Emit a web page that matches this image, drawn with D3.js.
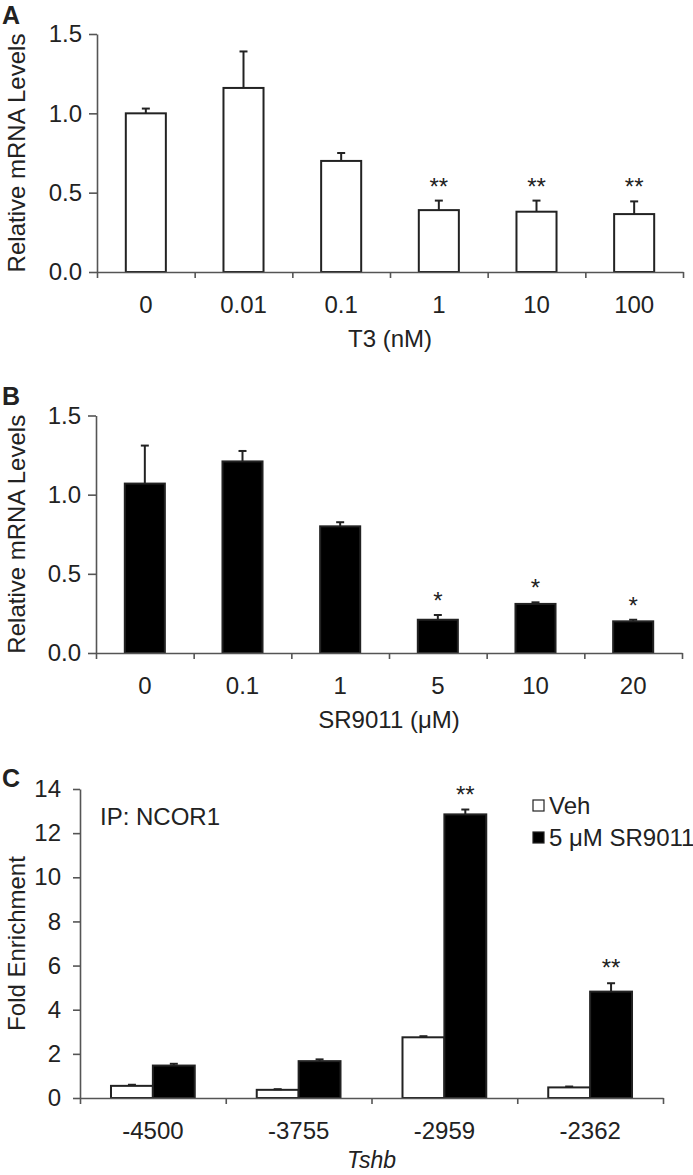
<!DOCTYPE html>
<html>
<head>
<meta charset="utf-8">
<script src="https://cdn.jsdelivr.net/npm/d3@7"></script>
<style>
  body { margin: 0; background: #fff; }
  text { font-family: "Liberation Sans", Arial, sans-serif; fill: #222; }
</style>
</head>
<body>
<div id="wrapper"></div>
<script>
// panel A: T3 dose
const t3Doses = ["0", "0.01", "0.1", "1", "10", "100"];
const t3Means = [1.0, 1.16, 0.70, 0.39, 0.38, 0.365];
const t3Errs = [0.03, 0.23, 0.05, 0.06, 0.07, 0.08];
const t3Sig = ["", "", "", "**", "**", "**"];

// panel B: SR9011 dose
const srDoses = ["0", "0.1", "1", "5", "10", "20"];
const srMeans = [1.07, 1.21, 0.80, 0.21, 0.31, 0.20];
const srErrs = [0.24, 0.066, 0.026, 0.03, 0.01, 0.01];
const srSig = ["", "", "", "*", "*", "*"];

// panel C: ChIP
const sites = ["-4500", "-3755", "-2959", "-2362"];
const groups = ["Veh", "5 μM SR9011"];
const vehMeans = [0.55, 0.37, 2.75, 0.48];
const vehErrs = [0.05, 0.03, 0.05, 0.04];
const sr5Means = [1.47, 1.67, 12.85, 4.82];
const sr5Errs = [0.08, 0.08, 0.22, 0.38];
const chipSig = ["", "", "**", "**"];

const mrnaTicks = [0, 0.5, 1.0, 1.5];
const foldTicks = [0, 2, 4, 6, 8, 10, 12, 14];

const W = 693, H = 1175;
const axisColor = "#555";
const inkColor = "#222";

const svg = d3.select("#wrapper").append("svg")
  .attr("width", W)
  .attr("height", H);

function styleAxis(g) {
  g.selectAll("path, line").attr("stroke", axisColor).attr("stroke-width", 1.6);
  g.selectAll("text").attr("font-size", 24).attr("fill", inkColor)
    .attr("font-family", "'Liberation Sans', Arial, sans-serif");
}

function drawDosePanel(opt) {
  const x = d3.scaleBand().domain(opt.cats).range([opt.x0, opt.x1]).padding(0);
  const xEdge = d3.scaleLinear().domain([0, opt.cats.length]).range([opt.x0, opt.x1]);
  const y = d3.scaleLinear().domain([0, 1.5]).range([opt.yBase, opt.yTop]);
  const bw = x.bandwidth() * 0.41;
  const data = opt.cats.map((c, i) => ({c, m: opt.means[i], e: opt.errs[i], s: opt.sig[i]}));

  svg.append("g").selectAll("rect").data(data).join("rect")
    .attr("x", d => x(d.c) + x.bandwidth() / 2 - bw / 2)
    .attr("y", d => y(d.m))
    .attr("width", bw)
    .attr("height", d => y(0) - y(d.m))
    .attr("fill", opt.fill)
    .attr("stroke", inkColor)
    .attr("stroke-width", 2);

  const err = svg.append("g").attr("stroke", inkColor).attr("stroke-width", 2);
  err.selectAll("line.v").data(data).join("line").attr("class", "v")
    .attr("x1", d => x(d.c) + x.bandwidth() / 2)
    .attr("x2", d => x(d.c) + x.bandwidth() / 2)
    .attr("y1", d => y(d.m))
    .attr("y2", d => y(d.m + d.e));
  err.selectAll("line.cap").data(data).join("line").attr("class", "cap")
    .attr("x1", d => x(d.c) + x.bandwidth() / 2 - 4)
    .attr("x2", d => x(d.c) + x.bandwidth() / 2 + 4)
    .attr("y1", d => y(d.m + d.e))
    .attr("y2", d => y(d.m + d.e));

  svg.append("g").selectAll("text").data(data.filter(d => d.s)).join("text")
    .attr("x", d => x(d.c) + x.bandwidth() / 2)
    .attr("y", d => y(d.m + d.e) - 6)
    .attr("text-anchor", "middle")
    .attr("font-size", 24)
    .attr("fill", "#333")
    .text(d => d.s);

  // y axis
  svg.append("g")
    .attr("transform", `translate(${opt.x0},0)`)
    .call(d3.axisLeft(y).tickValues(mrnaTicks).tickFormat(d3.format(".1f"))
      .tickSizeInner(8).tickSizeOuter(0).tickPadding(7))
    .call(styleAxis);

  // x axis with ticks at category edges
  svg.append("g")
    .attr("transform", `translate(0,${opt.yBase})`)
    .call(d3.axisBottom(xEdge).tickValues(d3.range(opt.cats.length + 1))
      .tickFormat("").tickSizeInner(6).tickSizeOuter(0))
    .call(styleAxis);

  // category labels
  svg.append("g")
    .attr("transform", `translate(0,${opt.yBase + 24})`)
    .call(d3.axisBottom(x).tickSize(0).tickPadding(0))
    .call(styleAxis)
    .call(g => g.select(".domain").remove());

  svg.append("text")
    .attr("x", (opt.x0 + opt.x1) / 2)
    .attr("y", opt.yBase + 75)
    .attr("text-anchor", "middle")
    .attr("font-size", 24)
    .text(opt.xTitle);

  svg.append("text")
    .attr("transform", `translate(25,${(opt.yBase + opt.yTop) / 2}) rotate(-90)`)
    .attr("text-anchor", "middle")
    .attr("font-size", 24)
    .text("Relative mRNA Levels");

  svg.append("text")
    .attr("x", 2)
    .attr("y", opt.letterY)
    .attr("font-size", 25)
    .attr("font-weight", "bold")
    .text(opt.letter);
}

drawDosePanel({
  cats: t3Doses, means: t3Means, errs: t3Errs, sig: t3Sig,
  x0: 97, x1: 683, yBase: 272, yTop: 34, fill: "#fff",
  xTitle: "T3 (nM)", letter: "A", letterY: 24
});

drawDosePanel({
  cats: srDoses, means: srMeans, errs: srErrs, sig: srSig,
  x0: 96, x1: 682, yBase: 653, yTop: 415.5, fill: "#000",
  xTitle: "SR9011 (μM)", letter: "B", letterY: 405
});

// ---- panel C
const cX0 = 80, cX1 = 663, cBase = 1098, cTop = 789;
const xc = d3.scaleBand().domain(sites).range([cX0, cX1]).padding(0);
const xg = d3.scaleBand().domain(groups).range([0, xc.bandwidth()]).paddingInner(0).paddingOuter(0.74);
const yc = d3.scaleLinear().domain([0, 14]).range([cBase, cTop]);
const colorC = d3.scaleOrdinal().domain(groups).range(["#fff", "#000"]);

const chip = sites.map((s, i) => [
  {site: s, g: groups[0], m: vehMeans[i], e: vehErrs[i], s: ""},
  {site: s, g: groups[1], m: sr5Means[i], e: sr5Errs[i], s: chipSig[i]}
]).flat();

svg.append("g").selectAll("rect").data(chip).join("rect")
  .attr("x", d => xc(d.site) + xg(d.g))
  .attr("y", d => yc(d.m))
  .attr("width", xg.bandwidth())
  .attr("height", d => yc(0) - yc(d.m))
  .attr("fill", d => colorC(d.g))
  .attr("stroke", inkColor)
  .attr("stroke-width", 2);

const errC = svg.append("g").attr("stroke", inkColor).attr("stroke-width", 2);
errC.selectAll("line.v").data(chip).join("line").attr("class", "v")
  .attr("x1", d => xc(d.site) + xg(d.g) + xg.bandwidth() / 2)
  .attr("x2", d => xc(d.site) + xg(d.g) + xg.bandwidth() / 2)
  .attr("y1", d => yc(d.m))
  .attr("y2", d => yc(d.m + d.e));
errC.selectAll("line.cap").data(chip).join("line").attr("class", "cap")
  .attr("x1", d => xc(d.site) + xg(d.g) + xg.bandwidth() / 2 - 4)
  .attr("x2", d => xc(d.site) + xg(d.g) + xg.bandwidth() / 2 + 4)
  .attr("y1", d => yc(d.m + d.e))
  .attr("y2", d => yc(d.m + d.e));

svg.append("g").selectAll("text").data(chip.filter(d => d.s)).join("text")
  .attr("x", d => xc(d.site) + xg(d.g) + xg.bandwidth() / 2)
  .attr("y", d => yc(d.m + d.e) - 7)
  .attr("text-anchor", "middle")
  .attr("font-size", 24)
  .attr("fill", "#333")
  .text(d => d.s);

svg.append("g")
  .attr("transform", `translate(${cX0},0)`)
  .call(d3.axisLeft(yc).tickValues(foldTicks).tickSizeInner(7).tickSizeOuter(0).tickPadding(12))
  .call(styleAxis);

const xcEdge = d3.scaleLinear().domain([0, sites.length]).range([cX0, cX1]);
svg.append("g")
  .attr("transform", `translate(0,${cBase})`)
  .call(d3.axisBottom(xcEdge).tickValues(d3.range(sites.length + 1))
    .tickFormat("").tickSizeInner(6).tickSizeOuter(0))
  .call(styleAxis);

svg.append("g")
  .attr("transform", `translate(0,${cBase + 24})`)
  .call(d3.axisBottom(xc).tickSize(0).tickPadding(0))
  .call(styleAxis)
  .call(g => g.select(".domain").remove());

svg.append("text")
  .attr("x", (cX0 + cX1) / 2)
  .attr("y", cBase + 70)
  .attr("text-anchor", "middle")
  .attr("font-size", 23)
  .attr("font-style", "italic")
  .text("Tshb");

svg.append("text")
  .attr("transform", `translate(25,${(cBase + cTop) / 2}) rotate(-90)`)
  .attr("text-anchor", "middle")
  .attr("font-size", 24)
  .text("Fold Enrichment");

svg.append("text")
  .attr("x", 2).attr("y", 787)
  .attr("font-size", 25).attr("font-weight", "bold")
  .text("C");

svg.append("text")
  .attr("x", 100).attr("y", 825)
  .attr("font-size", 24)
  .text("IP: NCOR1");

// legend
const legend = svg.append("g").attr("transform", "translate(533,800)");
const li = legend.selectAll("g").data(groups).join("g")
  .attr("transform", (d, i) => `translate(0,${i * 32})`);
li.append("rect")
  .attr("width", 11).attr("height", 11)
  .attr("fill", d => colorC(d))
  .attr("stroke", inkColor).attr("stroke-width", 1.2);
li.append("text")
  .attr("x", 16).attr("y", 14)
  .attr("font-size", 24)
  .text(d => d);
</script>
</body>
</html>
